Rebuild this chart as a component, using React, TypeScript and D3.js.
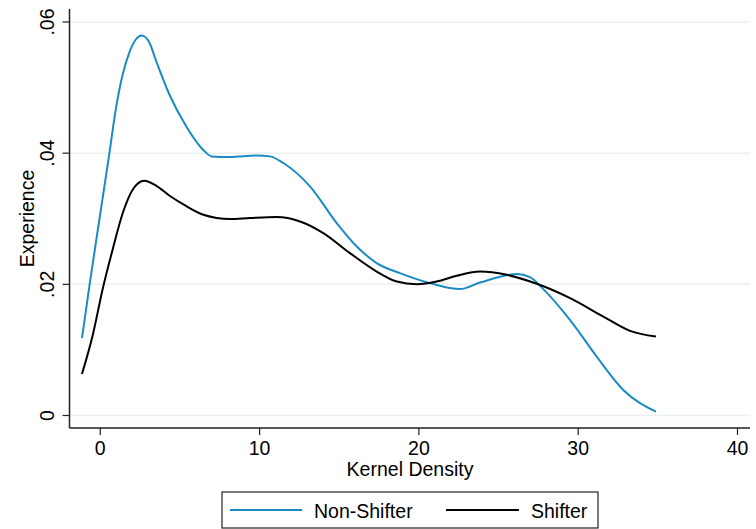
import React from "react";
import * as d3 from "d3";

const nonShifterX = [-1.15, -0.69, -0.06, 0.56, 0.99, 1.41, 1.82, 2.24, 2.6, 3.08, 3.5, 4.33, 5.38, 6.45, 6.99, 8.14, 9.82, 10.65, 11.49, 13.16, 14.84, 16.1, 17.35, 18.81, 20.7, 22.58, 23.84, 26.14, 26.97, 27.81, 29.48, 31.16, 32.83, 34.88];
const nonShifterY = [0.01179, 0.01966, 0.02985, 0.03982, 0.04695, 0.05203, 0.05534, 0.05737, 0.05794, 0.05687, 0.05408, 0.04898, 0.04415, 0.04053, 0.03951, 0.03942, 0.03966, 0.03951, 0.0385, 0.03493, 0.02934, 0.02577, 0.02324, 0.02171, 0.02018, 0.01927, 0.02027, 0.02156, 0.0211, 0.01927, 0.01458, 0.00898, 0.00389, 0.00058];
const shifterX = [-1.15, -0.48, 0.15, 0.78, 1.41, 2.03, 2.76, 3.5, 4.33, 5.38, 6.47, 8.14, 9.4, 11.07, 12.54, 14.0, 15.67, 17.35, 18.61, 19.86, 21.12, 22.37, 23.84, 25.51, 27.4, 29.49, 31.58, 33.25, 34.88];
const shifterY = [0.00634, 0.0122, 0.0193, 0.02535, 0.03087, 0.03443, 0.0358, 0.03505, 0.03355, 0.03195, 0.03061, 0.02995, 0.03011, 0.03026, 0.02959, 0.02782, 0.02476, 0.02195, 0.02043, 0.02003, 0.02043, 0.0213, 0.02195, 0.02145, 0.02008, 0.01789, 0.01508, 0.0129, 0.01203];
const xTicks = [0, 10, 20, 30, 40];
const yTicks = [0, 0.02, 0.04, 0.06];
const yTickLabels = ["0", ".02", ".04", ".06"];
const seriesNames = ["Non-Shifter", "Shifter"];

const BLUE = "#1a8bc4";
const FONT = "'Liberation Sans', Arial, Helvetica, sans-serif";
const FS = 19.5;

export default function App() {
  const W = 756, H = 529;
  const left = 69.5, right = 750, top = 9, bottom = 428;
  const x = d3.scaleLinear().domain([0, 40]).range([100.3, 737.5]);
  const y = d3.scaleLinear().domain([0, 0.06]).range([415.5, 22]);
  const line = d3.line<[number, number]>().x(d => x(d[0])).y(d => y(d[1])).curve(d3.curveMonotoneX);
  const blue = nonShifterX.map((v, i) => [v, nonShifterY[i]] as [number, number]);
  const black = shifterX.map((v, i) => [v, shifterY[i]] as [number, number]);

  return (
    <svg width={W} height={H} style={{ position: "absolute", left: 0, top: 0, background: "#fff" }} fontFamily={FONT}>
      {yTicks.map(t => (
        <line key={"g" + t} x1={left} x2={right} y1={y(t)} y2={y(t)} stroke="#e8f0f2" strokeWidth={1.5} />
      ))}
      <path d={line(blue) || ""} fill="none" stroke={BLUE} strokeWidth={2} strokeLinejoin="round" />
      <path d={line(black) || ""} fill="none" stroke="#000" strokeWidth={2} strokeLinejoin="round" />
      <line x1={left} x2={left} y1={top} y2={bottom} stroke="#222" strokeWidth={1.5} />
      <line x1={left} x2={right} y1={bottom} y2={bottom} stroke="#222" strokeWidth={1.5} />
      {yTicks.map((t, i) => (
        <g key={"y" + t}>
          <line x1={left - 7} x2={left} y1={y(t)} y2={y(t)} stroke="#222" strokeWidth={1.2} />
          <text transform={`translate(${53.5},${y(t)}) rotate(-90)`} textAnchor="middle" fontSize={FS} fill="#000">{yTickLabels[i]}</text>
        </g>
      ))}
      {xTicks.map(t => (
        <g key={"x" + t}>
          <line x1={x(t)} x2={x(t)} y1={bottom} y2={bottom + 7} stroke="#222" strokeWidth={1.2} />
          <text x={x(t)} y={455} textAnchor="middle" fontSize={FS} fill="#000">{t}</text>
        </g>
      ))}
      <text x={410} y={476} textAnchor="middle" fontSize={FS} fill="#000">Kernel Density</text>
      <text transform={`translate(33.5,${(top + bottom) / 2}) rotate(-90)`} textAnchor="middle" fontSize={FS} fill="#000">Experience</text>
      <rect x={222} y={492} width={376} height={36} fill="#fff" stroke="#222" strokeWidth={1.2} />
      <line x1={230} x2={302} y1={510} y2={510} stroke={BLUE} strokeWidth={2} />
      <text x={314} y={518} fontSize={FS} fill="#000">{seriesNames[0]}</text>
      <line x1={446} x2={519} y1={510} y2={510} stroke="#000" strokeWidth={2} />
      <text x={531} y={518} fontSize={FS} fill="#000">{seriesNames[1]}</text>
    </svg>
  );
}
